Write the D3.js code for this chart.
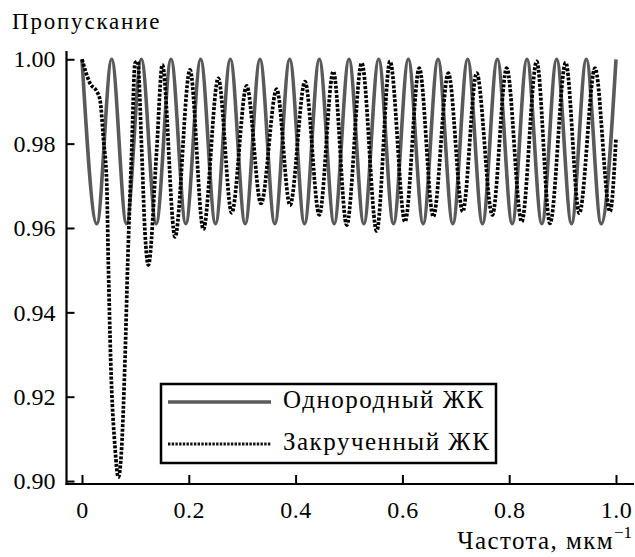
<!DOCTYPE html>
<html>
<head>
<meta charset="utf-8">
<script src="https://cdn.jsdelivr.net/npm/d3@7"></script>
<style>
  body { margin: 0; background: #fff; }
</style>
</head>
<body>
<div id="chart"></div>
<script>
  var width = 635;
  var height = 557;
  var serif = "'Liberation Serif', 'Times New Roman', Times, 'DejaVu Serif', 'Noto Serif', serif";

  // axis ticks
  var freqTicks = [0, 0.2, 0.4, 0.6, 0.8, 1.0];
  var transTicks = [0.90, 0.92, 0.94, 0.96, 0.98, 1.00];
  var seriesNames = ["Однородный ЖК", "Закрученный ЖК"];

  // homogeneous LC: peaks and troughs
  var uniformFreq = [0, 0.0278, 0.0556, 0.0833, 0.1111, 0.1389, 0.1667, 0.1944, 0.2222, 0.25,
    0.2778, 0.3056, 0.3333, 0.3611, 0.3889, 0.4167, 0.4444, 0.4722, 0.5, 0.5278,
    0.5556, 0.5833, 0.6111, 0.6389, 0.6667, 0.6944, 0.7222, 0.75, 0.7778, 0.8056,
    0.8333, 0.8611, 0.8889, 0.9167, 0.9444, 0.9722, 1.0];
  var uniformTrans = [1.000, 0.961, 1.000, 0.961, 1.000, 0.961, 1.000, 0.961, 1.000, 0.961,
    1.000, 0.961, 1.000, 0.961, 1.000, 0.961, 1.000, 0.961, 1.000, 0.961,
    1.000, 0.961, 1.000, 0.961, 1.000, 0.961, 1.000, 0.961, 1.000, 0.961,
    1.000, 0.961, 1.000, 0.961, 1.000, 0.961, 1.000];

  // twisted LC
  var twistedFreq = [0, 0.015, 0.0275, 0.0337, 0.0403, 0.0463, 0.0493, 0.0537, 0.0618, 0.068,
    0.0743, 0.0805, 0.0856, 0.0931, 0.0993, 0.1043, 0.1118, 0.118, 0.1242, 0.1399,
    0.1504, 0.1742, 0.2022, 0.2272, 0.2552, 0.2803, 0.3084, 0.3352, 0.3646, 0.3895,
    0.4176, 0.4444, 0.4706, 0.4957, 0.5238, 0.5519, 0.5768, 0.6049, 0.6316, 0.6579,
    0.686, 0.7129, 0.7391, 0.7684, 0.7953, 0.8234, 0.8515, 0.8764, 0.9058, 0.9313,
    0.9607, 0.9888, 1.0];
  var twistedTrans = [1.000, 0.9943, 0.9924, 0.9904, 0.9809, 0.9707, 0.9517, 0.9287, 0.9080, 0.9009,
    0.9080, 0.9287, 0.9517, 0.9785, 0.9991, 0.9995, 0.9785, 0.9588, 0.9512, 0.9785,
    0.9987, 0.9579, 0.9975, 0.9597, 0.9955, 0.9636, 0.9937, 0.9658, 0.9929, 0.9654,
    0.9947, 0.9631, 0.9971, 0.9607, 0.9991, 0.9593, 0.9995, 0.9615, 0.9979, 0.9627,
    0.9967, 0.9639, 0.9967, 0.9631, 0.9979, 0.9615, 0.9995, 0.9611, 0.9992, 0.9635,
    0.9979, 0.9639, 0.9813];

  var svg = d3.select("#chart")
    .append("svg")
    .attr("width", width)
    .attr("height", height)
    .style("font-family", serif);

  var x = d3.scaleLinear().domain([0, 1]).range([82, 616]);
  var y = d3.scaleLinear().domain([0.8993, 1.0022]).range([484, 50]);
  var axisX = 66.5;

  // x axis
  var gx = svg.append("g")
    .attr("transform", "translate(0," + y.range()[0] + ")")
    .call(d3.axisBottom(x)
      .tickValues(freqTicks)
      .tickSize(-9)
      .tickPadding(17)
      .tickFormat(function(d) { return d === 0 ? "0" : d3.format(".1f")(d); }));
  gx.attr("font-family", null).attr("font-size", null);
  gx.select(".domain").remove();
  gx.selectAll("line").attr("stroke", "#000").attr("stroke-width", 2);
  gx.selectAll("text").attr("fill", "#000")
    .style("font-family", serif).style("font-size", "24px")
    .style("letter-spacing", "0.5px");
  svg.append("line")
    .attr("x1", axisX - 1).attr("x2", width - 1)
    .attr("y1", y.range()[0]).attr("y2", y.range()[0])
    .attr("stroke", "#000").attr("stroke-width", 2.2);

  // y axis
  var gy = svg.append("g")
    .attr("transform", "translate(" + axisX + ",0)")
    .call(d3.axisLeft(y)
      .tickValues(transTicks)
      .tickSize(-8)
      .tickPadding(11)
      .tickFormat(d3.format(".2f")));
  gy.attr("font-family", null).attr("font-size", null);
  gy.select(".domain").remove();
  gy.selectAll("line").attr("stroke", "#000").attr("stroke-width", 2);
  gy.selectAll("text").attr("fill", "#000")
    .style("font-family", serif).style("font-size", "24px");
  svg.append("line")
    .attr("x1", axisX).attr("x2", axisX)
    .attr("y1", y.range()[1] + 1).attr("y2", y.range()[0] + 1)
    .attr("stroke", "#000").attr("stroke-width", 2.2);

  // titles
  svg.append("text")
    .attr("x", 12).attr("y", 29)
    .style("font-family", serif)
    .style("font-size", "23px")
    .style("letter-spacing", "1.8px")
    .text("Пропускание");
  var xt = svg.append("text")
    .attr("x", 632).attr("y", 549)
    .attr("text-anchor", "end")
    .style("font-family", serif)
    .style("font-size", "25px");
  xt.append("tspan").style("letter-spacing", "1.4px").text("Частота, мкм");
  xt.append("tspan").attr("dy", -11).style("font-size", "17px").text("\u22121");

  // curves
  var line = d3.line()
    .x(function(d) { return x(d[0]); })
    .y(function(d) { return y(d[1]); })
    .curve(d3.curveMonotoneX);

  svg.append("path")
    .datum(d3.zip(uniformFreq, uniformTrans))
    .attr("fill", "none")
    .attr("stroke", "#5a5a5a")
    .attr("stroke-width", 3.6)
    .attr("d", line);

  svg.append("path")
    .datum(d3.zip(twistedFreq, twistedTrans))
    .attr("fill", "none")
    .attr("stroke", "#000")
    .attr("stroke-width", 3.7)
    .attr("stroke-dasharray", "3,1.6")
    .attr("d", line);

  // legend
  var lg = svg.append("g").attr("transform", "translate(161,384)");
  lg.append("rect")
    .attr("width", 335).attr("height", 79)
    .attr("fill", "#fff")
    .attr("stroke", "#000").attr("stroke-width", 2.5);
  var styles = [
    { stroke: "#5a5a5a", width: 3.4, dash: null },
    { stroke: "#111", width: 3, dash: "2.4,1.3" }
  ];
  seriesNames.forEach(function(name, i) {
    var cy = 18 + i * 42;
    lg.append("line")
      .attr("x1", 7).attr("x2", 110)
      .attr("y1", cy).attr("y2", cy)
      .attr("stroke", styles[i].stroke)
      .attr("stroke-width", styles[i].width)
      .attr("stroke-dasharray", styles[i].dash);
    lg.append("text")
      .attr("x", 122).attr("y", cy + 6)
      .style("font-family", serif)
      .style("font-size", "25px")
      .style("letter-spacing", "1.5px")
      .text(name);
  });
</script>
</body>
</html>
